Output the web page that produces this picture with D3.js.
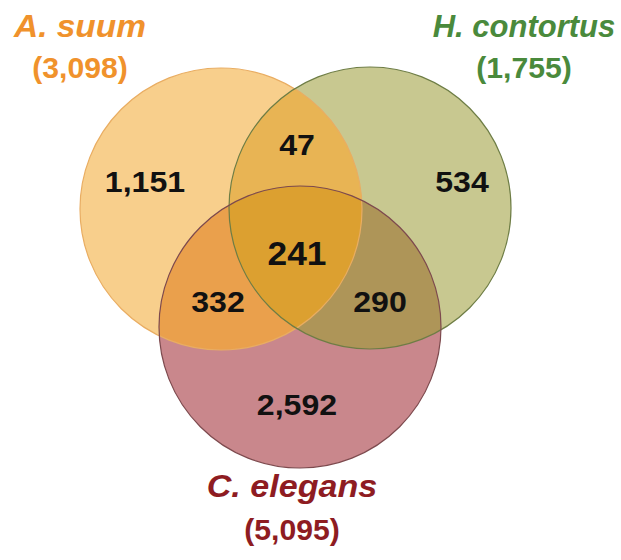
<!DOCTYPE html>
<html>
<head>
<meta charset="utf-8">
<script src="https://cdn.jsdelivr.net/npm/d3@7"></script>
<style>
  body { margin: 0; background: #fff; }
  text { font-family: "Liberation Sans", Arial, sans-serif; font-weight: bold; }
</style>
</head>
<body>
<script>
// sets and their totals
var setNames = ["A. suum", "H. contortus", "C. elegans"];
var setTotals = ["3,098", "1,755", "5,095"];

// region counts: A only, H only, C only, A∩H, A∩C, H∩C, all three
var regionKeys = ["A", "H", "C", "AH", "AC", "HC", "AHC"];
var regionCounts = ["1,151", "534", "2,592", "47", "332", "290", "241"];

var width = 621, height = 560;

var svg = d3.select("body").append("svg")
    .attr("width", width).attr("height", height);

// circle layout in pixels
var circles = {
  A: {cx: 221, cy: 209, r: 141, fill: "#f8cf8c", stroke: "#e9ad62"},
  H: {cx: 370, cy: 208, r: 141, fill: "#c8c890", stroke: "#6e7d45"},
  C: {cx: 300, cy: 327, r: 141, fill: "#c9878c", stroke: "#7d4a4e"}
};
var overlapFill = {AH: "#e8b454", AC: "#eaa04c", HC: "#ae9558", AHC: "#dca030"};

var defs = svg.append("defs");
["A", "H"].forEach(function (k) {
  defs.append("clipPath").attr("id", "clip" + k)
    .append("circle")
    .attr("cx", circles[k].cx).attr("cy", circles[k].cy).attr("r", circles[k].r);
});

var g = svg.append("g");

// base circles
["A", "H", "C"].forEach(function (k) {
  g.append("circle")
    .attr("cx", circles[k].cx).attr("cy", circles[k].cy).attr("r", circles[k].r)
    .style("fill", circles[k].fill);
});

// pairwise overlaps (second circle clipped by first)
function overlap(clipKey, circleKey, fill, parent) {
  return parent.append("g").attr("clip-path", "url(#clip" + clipKey + ")")
    .append("circle")
    .attr("cx", circles[circleKey].cx).attr("cy", circles[circleKey].cy).attr("r", circles[circleKey].r)
    .style("fill", fill);
}
overlap("A", "H", overlapFill.AH, g);
overlap("A", "C", overlapFill.AC, g);
overlap("H", "C", overlapFill.HC, g);
// triple overlap
var inner = g.append("g").attr("clip-path", "url(#clipA)");
overlap("H", "C", overlapFill.AHC, inner);

// outlines
["A", "H", "C"].forEach(function (k) {
  g.append("circle")
    .attr("cx", circles[k].cx).attr("cy", circles[k].cy).attr("r", circles[k].r)
    .style("fill", "none").style("stroke", circles[k].stroke).style("stroke-width", 1.2);
});

// region label positions (baseline)
var regionPos = {
  A: [145, 192], H: [462, 192], C: [297, 415],
  AH: [297, 155], AC: [218, 312], HC: [380, 312], AHC: [297, 265]
};

svg.append("g").selectAll("text")
  .data(regionKeys)
  .enter().append("text")
    .attr("text-anchor", "middle")
    .attr("transform", function (d) {
      return "translate(" + regionPos[d][0] + "," + regionPos[d][1] + ") scale(1.07,1)";
    })
    .style("font-size", function (d) { return d === "AHC" ? "33px" : "30px"; })
    .style("fill", "#111")
    .text(function (d, i) { return regionCounts[i]; });

// set labels: x, name baseline, total baseline, horizontal stretch
var labelPos = [[80, 37, 78, 1.08], [524, 37, 78, 1.0], [292, 497, 540, 1.1]];
var labelColor = ["#f0922c", "#4a8a3c", "#8e1c22"];

var labels = svg.append("g").selectAll("g")
  .data(setNames)
  .enter().append("g");

labels.append("text")
  .attr("text-anchor", "middle")
  .attr("transform", function (d, i) {
    return "translate(" + labelPos[i][0] + "," + labelPos[i][1] + ") scale(" + labelPos[i][3] + ",1)";
  })
  .style("font-size", "31px").style("font-style", "italic")
  .style("fill", function (d, i) { return labelColor[i]; })
  .text(function (d) { return d; });

labels.append("text")
  .attr("text-anchor", "middle")
  .attr("transform", function (d, i) {
    return "translate(" + labelPos[i][0] + "," + labelPos[i][2] + ") scale(1.04,1)";
  })
  .style("font-size", "29px")
  .style("fill", function (d, i) { return labelColor[i]; })
  .text(function (d, i) { return "(" + setTotals[i] + ")"; });
</script>
</body>
</html>
